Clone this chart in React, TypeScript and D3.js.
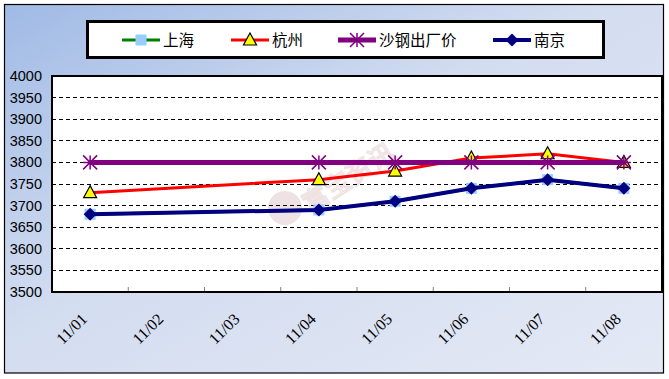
import React from "react";
import * as d3 from "d3";

const categories = ["11/01", "11/02", "11/03", "11/04", "11/05", "11/06", "11/07", "11/08"];
const shanghai = [3680, null, null, 3690, 3710, 3740, 3760, 3740];
const hangzhou = [3730, null, null, 3760, 3780, 3810, 3820, 3800];
const shagang = [3800, null, null, 3800, 3800, 3800, 3800, 3800];
const nanjing = [3680, null, null, 3690, 3710, 3740, 3760, 3740];
const yTicks = [3500, 3550, 3600, 3650, 3700, 3750, 3800, 3850, 3900, 3950, 4000];
const legendNames = ["上海", "杭州", "沙钢出厂价", "南京"];

const W = 669;
const H = 379;
const plot = { left: 52, right: 662, top: 76, bottom: 292 };

export default function App() {
  const x = d3.scaleBand<string>().domain(categories).range([plot.left, plot.right]).padding(0);
  const y = d3.scaleLinear().domain([3500, 4000]).range([plot.bottom, plot.top]);
  const cx = (c: string) => (x(c) as number) + x.bandwidth() / 2;

  const pts = (vals: (number | null)[]) =>
    categories
      .map((c, i) => ({ c, v: vals[i] }))
      .filter((d) => d.v !== null)
      .map((d) => [cx(d.c), y(d.v as number)] as [number, number]);

  const line = d3.line<[number, number]>();

  const sh = pts(shanghai);
  const hz = pts(hangzhou);
  const sg = pts(shagang);
  const nj = pts(nanjing);

  const square = (p: [number, number], k: number) => (
    <rect key={k} x={p[0] - 5.5} y={p[1] - 5.5} width={11} height={11} fill="#99ccff" />
  );
  const triangle = (p: [number, number], k: number) => (
    <path
      key={k}
      d={`M${p[0]},${p[1] - 7}L${p[0] + 6.5},${p[1] + 5}L${p[0] - 6.5},${p[1] + 5}Z`}
      fill="#ffff00"
      stroke="#000"
      strokeWidth={1.2}
    />
  );
  const star = (p: [number, number], k: number) => {
    const r = 7;
    return (
      <path
        key={k}
        d={`M${p[0]},${p[1] - r}V${p[1] + r}M${p[0] - r},${p[1] - r}L${p[0] + r},${p[1] + r}M${p[0] + r},${p[1] - r}L${p[0] - r},${p[1] + r}M${p[0] - r},${p[1]}H${p[0] + r}`}
        stroke="#800080"
        strokeWidth={1.5}
        fill="none"
      />
    );
  };
  const diamond = (p: [number, number], k: number) => (
    <path
      key={k}
      d={`M${p[0]},${p[1] - 6.5}L${p[0] + 6.5},${p[1]}L${p[0]},${p[1] + 6.5}L${p[0] - 6.5},${p[1]}Z`}
      fill="#000080"
    />
  );

  const legendItems = [
    { name: legendNames[0], x0: 122, color: "#008000", width: 3, marker: square },
    { name: legendNames[1], x0: 231, color: "#ff0000", width: 3, marker: triangle },
    { name: legendNames[2], x0: 338, color: "#800080", width: 5, marker: star },
    { name: legendNames[3], x0: 493, color: "#000080", width: 4, marker: diamond },
  ];

  return (
    <svg width={W} height={H} style={{ position: "absolute", left: 0, top: 0 }}>
      <defs>
        <linearGradient id="bg" x1="0" y1="0" x2="1" y2="1">
          <stop offset="0" stopColor="#a0bae5" />
          <stop offset="0.45" stopColor="#d3ddf0" />
          <stop offset="1" stopColor="#e4e9f5" />
        </linearGradient>
      </defs>
      <rect x={0} y={0} width={W} height={H} fill="#fff" />
      <rect x={4.5} y={4.5} width={659} height={368.5} fill="url(#bg)" stroke="#000" strokeWidth={1.2} />

      {/* plot area */}
      <rect x={plot.left} y={plot.top} width={plot.right - plot.left} height={plot.bottom - plot.top} fill="#fff" />

      {/* watermark */}
      <g opacity={0.28}>
        <circle cx={285} cy={208} r={17} fill="#c89a9a" />
        <text
          x={310}
          y={214}
          transform="rotate(-33 310 214)"
          fontFamily="Noto Sans CJK SC"
          fontSize={26}
          fill="none"
          stroke="#c89a9a"
          strokeWidth={1.5}
        >
          富宝资讯
        </text>
      </g>

      {/* gridlines */}
      {yTicks
        .filter((t) => t > 3500 && t < 4000)
        .map((t) => (
          <line
            key={t}
            x1={plot.left}
            x2={plot.right}
            y1={y(t)}
            y2={y(t)}
            stroke="#000"
            strokeWidth={1}
            strokeDasharray="4,3"
            shapeRendering="crispEdges"
          />
        ))}

      {/* x tick marks */}
      {categories.slice(1).map((c) => (
        <line
          key={c}
          x1={x(c) as number}
          x2={x(c) as number}
          y1={plot.bottom}
          y2={plot.bottom - 5}
          stroke="#808080"
          strokeWidth={1}
        />
      ))}

      {/* plot border */}
      <rect
        x={plot.left}
        y={plot.top}
        width={plot.right - plot.left}
        height={plot.bottom - plot.top}
        fill="none"
        stroke="#000"
        strokeWidth={2}
      />

      {/* y labels */}
      {yTicks.map((t) => (
        <text
          key={t}
          x={42}
          y={y(t)}
          dy="0.35em"
          textAnchor="end"
          fontFamily="Liberation Sans, Arial, sans-serif"
          fontSize={14.5}
          fill="#000"
        >
          {t}
        </text>
      ))}

      {/* x labels */}
      {categories.map((c) => {
        const px = cx(c) - 2;
        const py = 320;
        return (
          <text
            key={c}
            x={px}
            y={py}
            transform={`rotate(-45 ${px} ${py})`}
            textAnchor="end"
            fontFamily="Liberation Serif, Times New Roman, serif"
            fontSize={16}
            fill="#000"
          >
            {c}
          </text>
        );
      })}

      {/* series */}
      <path d={line(sh) ?? ""} fill="none" stroke="#008000" strokeWidth={3} />
      {sh.map(square)}
      <path d={line(hz) ?? ""} fill="none" stroke="#ff0000" strokeWidth={3} />
      {hz.map(triangle)}
      <path d={line(sg) ?? ""} fill="none" stroke="#800080" strokeWidth={5} />
      {sg.map(star)}
      <path d={line(nj) ?? ""} fill="none" stroke="#000080" strokeWidth={4} />
      {nj.map(diamond)}

      {/* legend */}
      <rect x={87.5} y={21.5} width={516} height={36} fill="#fff" stroke="#000" strokeWidth={3} />
      {legendItems.map((it, i) => (
        <g key={i}>
          <line x1={it.x0} x2={it.x0 + 38} y1={40} y2={40} stroke={it.color} strokeWidth={it.width} />
          {it.marker([it.x0 + 19, 40], i)}
          <text
            x={it.x0 + 41}
            y={40}
            dy="0.36em"
            fontFamily="Noto Sans CJK SC"
            fontSize={15.5}
            fill="#000"
          >
            {it.name}
          </text>
        </g>
      ))}
    </svg>
  );
}
